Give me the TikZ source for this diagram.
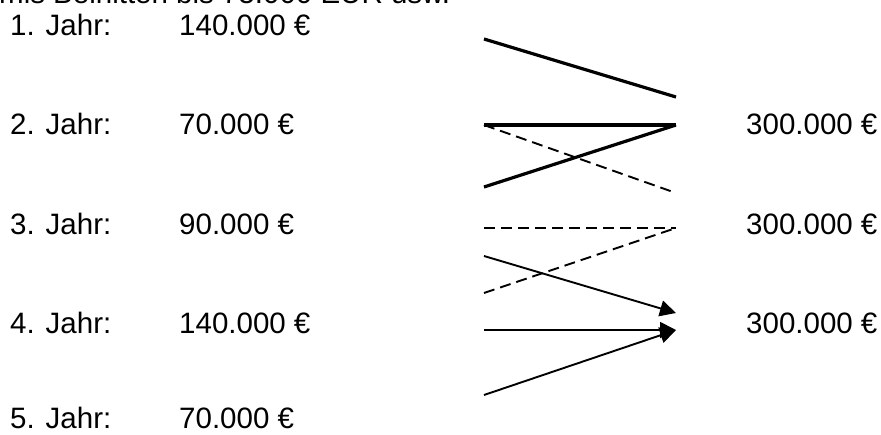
\documentclass[tikz,border=0pt]{standalone}
\usepackage{fontspec}
\setmainfont{Liberation Sans}
\usetikzlibrary{arrows.meta}

\begin{document}
\begin{tikzpicture}[x=1pt, y=-1pt, line cap=butt,
  every node/.style={anchor=base west, inner sep=0pt, font=\fontsize{29.5}{34}\selectfont}]
  \useasboundingbox (0,0) rectangle (881,434);
  % the heading, cut off at the top
  \node (kopf) at (-1,3) {mis Beinitten bis 75.000 EUR usw.};
  % the years
  \foreach \n/\y/\b in {1/35/140.000,2/134/70.000,3/234/90.000,4/333/140.000,5/428/70.000} {
    \node (j\n) at (10,\y) {\n. Jahr:};
    \node (b\n) at (179,\y) {\b~€};
  }
  % the sums
  \foreach \n/\y in {2/134,3/234,4/333} \node (s\n) at (746,\y) {300.000~€};
  % ends of the lines
  \foreach \n/\y in {1/39,2/125,3/187,4/228,5/256,6/293,7/330,8/395} \coordinate (l\n) at (484,\y);
  \foreach \n/\y in {1/97,2/125,3/193,4/228,5/313,6/330} \coordinate (r\n) at (676,\y);
  % the thick lines
  \draw[line width=3.2pt] (l1)--(r1);
  \draw[line width=3.2pt] (l2)--(r2);
  \draw[line width=3.2pt] (l3)--(r2);
  % the dashed lines
  \draw[line width=1.9pt, dash pattern=on 11pt off 6pt] (l2)--(r3);
  \draw[line width=1.9pt, dash pattern=on 11pt off 6pt] (l4)--(r4);
  \draw[line width=1.9pt, dash pattern=on 11pt off 6pt] (l6)--(r4);
  % the arrows
  \draw[line width=1.9pt, -{Triangle[length=16pt,width=16pt]}] (l5)--(r5);
  \draw[line width=1.9pt, -{Triangle[length=16pt,width=16pt]}] (l7)--(r6);
  \draw[line width=1.9pt, -{Triangle[length=16pt,width=16pt]}] (l8)--(r6);
\end{tikzpicture}
\end{document}
